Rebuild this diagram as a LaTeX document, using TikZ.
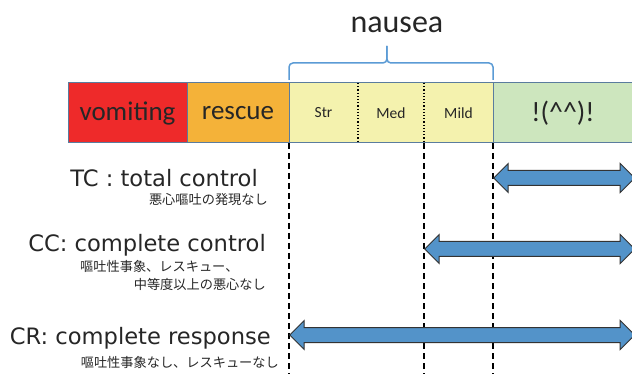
\documentclass[tikz,border=0pt]{standalone}
\usepackage{fontspec}
\setmainfont{Carlito}
\newfontfamily\labelfont{DejaVu Sans}
\newfontfamily\jpfont{Noto Sans CJK JP}
\usetikzlibrary{calc}
\usetikzlibrary{positioning}
\usetikzlibrary{shapes.arrows}

\definecolor{vomitred}{HTML}{EE2A2A}
\definecolor{rescueorange}{HTML}{F4B239}
\definecolor{nauseayellow}{HTML}{F4F2AE}
\definecolor{okgreen}{HTML}{CDE6BE}
\definecolor{barline}{HTML}{5A7C9E}
\definecolor{bracecol}{HTML}{5B9BD5}
\definecolor{arrowfill}{HTML}{5393C9}

\tikzset{
  segment/.style={minimum height=60, inner sep=0, outer sep=0, text=black!85,
    font=\fontsize{27}{27}\selectfont},
  nausea segment/.style={segment, fill=nauseayellow, font=\fontsize{15.5}{15.5}\selectfont},
  label en/.style={font=\labelfont\fontsize{22.6}{22.6}\selectfont, text=black!85, inner sep=0},
  label jp/.style={font=\jpfont\fontsize{13.2}{13.2}\selectfont, text=black!85, inner sep=0},
  cut line/.style={line width=1.2pt, dash pattern=on 6pt off 4pt},
  blue arrow/.style={double arrow, draw=black!80, line width=1pt, fill=arrowfill,
    minimum width=28, double arrow head extend=7, inner sep=7pt}
}

\begin{document}
\begin{tikzpicture}[x=1pt, y=-1pt]
\useasboundingbox (0,0) rectangle (632,374);

%% the bar
\node[segment, fill=vomitred, minimum width=119, anchor=north west] (vomit) at (68,83) {vomiting\hspace{9pt}};
\node[segment, fill=rescueorange, minimum width=102, right=0pt of vomit] (rescue) {rescue\hspace{8pt}};
\node[nausea segment, minimum width=69, right=0pt of rescue] (str) {Str};
\node[nausea segment, minimum width=66, right=0pt of str] (med) {Med};
\node[nausea segment, minimum width=69, right=0pt of med] (mild) {Mild};
\node[segment, fill=okgreen, minimum width=140, right=0pt of mild,
  font=\fontsize{28}{28}\selectfont] (ok) {!(\^{}\^{})!\hspace{3pt}};

\draw[barline, line width=1pt] (vomit.north west) rectangle (ok.south east);
\draw[barline, line width=1pt] (vomit.north east) -- (vomit.south east);
\draw[barline, line width=1pt] (rescue.north east) -- (rescue.south east);
\draw[barline, line width=1pt] (mild.north east) -- (mild.south east);
\draw[dotted, line width=1.2pt] (str.north east) -- (str.south east);
\draw[dotted, line width=1.2pt] (med.north east) -- (med.south east);

%% brace over the nausea grades
\coordinate (brace tip) at ($(str.north west)!0.48!(mild.north east)$);
\draw[bracecol, line width=1.5pt, rounded corners=4]
    ([yshift=3pt]str.north west) -- ([yshift=20pt]str.north west) -- ([yshift=20pt]brace tip) -- ([yshift=37pt]brace tip);
\draw[bracecol, line width=1.5pt, rounded corners=4]
    ([yshift=3pt]mild.north east) -- ([yshift=20pt]mild.north east) -- ([yshift=20pt]brace tip) -- ([yshift=37pt]brace tip);
\node[font=\fontsize{32}{32}\selectfont, text=black!85, inner sep=0] (nausea) at ([xshift=10pt, yshift=58pt]brace tip) {nausea};

%% cut-off lines
\draw[cut line] (str.south west) -- (str.south west |- 0,374);
\draw[cut line] (mild.south west) -- (mild.south west |- 0,374);
\draw[cut line] (mild.south east) -- (mild.south east |- 0,374);

%% endpoint labels
\node[label en, anchor=east] (tc) at (258,178) {TC : total control};
\node[label jp, anchor=east] (tc note) at (268,200) {悪心嘔吐の発現なし};
\node[label en, anchor=east] (cc) at (266,245) {CC: complete control};
\node[label jp, anchor=west] (cc note a) at (80,266) {嘔吐性事象、レスキュー、};
\node[label jp, anchor=east] (cc note b) at (266,284) {中等度以上の悪心なし};
\node[label en, anchor=east] (cr) at (271,338) {CR: complete response};
\node[label jp, anchor=east] (cr note) at (279,362) {嘔吐性事象なし、レスキューなし};

%% ranges
\node[blue arrow, minimum height=141, anchor=west] (tc arrow) at (mild.south east |- 0,178) {};
\node[blue arrow, minimum height=210, anchor=west] (cc arrow) at (mild.south west |- 0,249) {};
\node[blue arrow, minimum height=345, anchor=west] (cr arrow) at (str.south west |- 0,335) {};

\end{tikzpicture}
\end{document}
